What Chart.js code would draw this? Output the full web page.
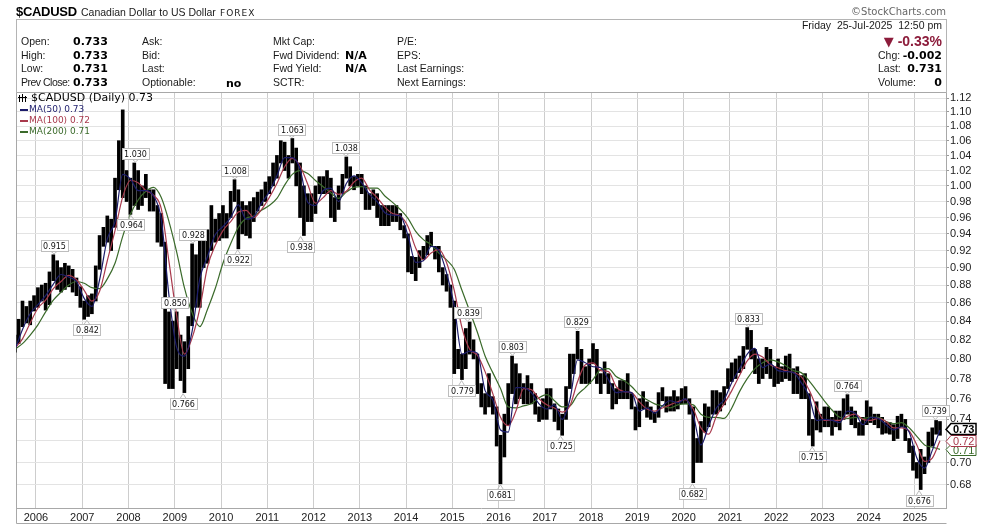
<!DOCTYPE html>
<html>
<head>
<meta charset="utf-8">
<script src="https://cdn.jsdelivr.net/npm/chart.js@4.4.1/dist/chart.umd.min.js"></script>
<style>
  body { margin: 0; background: #fff; }
  #wrap { position: relative; width: 990px; height: 525px; overflow: hidden; font-family: "Liberation Sans", Arial, sans-serif; }
  #chart { position: absolute; left: 0; top: 0; }
  .t { position: absolute; font-size: 10.5px; line-height: 13px; color: #1a1a1a; white-space: nowrap; }
  .v { position: absolute; font-family: "DejaVu Sans", sans-serif; font-weight: bold; font-size: 11px; line-height: 13px; color: #000; white-space: nowrap; }
  .r { text-align: right; }
</style>
</head>
<body>
<div id="wrap">
  <canvas id="chart" width="990" height="525"></canvas>

  <div class="t" style="left:16px;top:5px;font-size:13px;font-weight:bold;letter-spacing:-0.3px;color:#000">$CADUSD</div>
  <div class="t" style="left:81px;top:6px">Canadian Dollar to US Dollar</div>
  <div class="t" style="left:220px;top:7px;font-family:'DejaVu Sans';font-size:9px;letter-spacing:1px">FOREX</div>
  <div class="t" style="right:44px;top:5px;font-family:'DejaVu Sans';font-size:10px;color:#666">©StockCharts.com</div>

  <div style="position:absolute;left:16px;top:19px;width:929px;height:73px;border:1px solid #b4b4b4;border-bottom:none"></div>

  <div class="t" style="left:21px;top:35px">Open:</div>
  <div class="t" style="left:21px;top:49px">High:</div>
  <div class="t" style="left:21px;top:62px">Low:</div>
  <div class="t" style="left:21px;top:76px;letter-spacing:-0.5px">Prev Close:</div>
  <div class="v" style="left:73px;top:35px">0.733</div>
  <div class="v" style="left:73px;top:49px">0.733</div>
  <div class="v" style="left:73px;top:62px">0.731</div>
  <div class="v" style="left:73px;top:76px">0.733</div>

  <div class="t" style="left:142px;top:35px">Ask:</div>
  <div class="t" style="left:142px;top:49px">Bid:</div>
  <div class="t" style="left:142px;top:62px">Last:</div>
  <div class="t" style="left:142px;top:76px">Optionable:</div>
  <div class="v" style="left:226px;top:77px">no</div>

  <div class="t" style="left:273px;top:35px">Mkt Cap:</div>
  <div class="t" style="left:273px;top:49px">Fwd Dividend:</div>
  <div class="t" style="left:273px;top:62px">Fwd Yield:</div>
  <div class="t" style="left:273px;top:76px">SCTR:</div>
  <div class="v" style="left:345px;top:49px">N/A</div>
  <div class="v" style="left:345px;top:62px">N/A</div>

  <div class="t" style="left:397px;top:35px">P/E:</div>
  <div class="t" style="left:397px;top:49px">EPS:</div>
  <div class="t" style="left:397px;top:62px">Last Earnings:</div>
  <div class="t" style="left:397px;top:76px">Next Earnings:</div>

  <div class="t r" style="right:48px;top:19px">Friday&nbsp;&nbsp;25-Jul-2025&nbsp;&nbsp;12:50 pm</div>
  <div class="t r" style="right:48px;top:33px;font-size:14px;line-height:16px;font-weight:bold;color:#8c1c3b"><span style="font-family:'DejaVu Sans';font-size:13px">▼</span> -0.33%</div>
  <div class="t" style="left:878px;top:49px">Chg:</div>
  <div class="v r" style="right:48px;top:49px">-0.002</div>
  <div class="t" style="left:878px;top:62px">Last:</div>
  <div class="v r" style="right:48px;top:62px">0.731</div>
  <div class="t" style="left:878px;top:76px">Volume:</div>
  <div class="v r" style="right:48px;top:76px">0</div>
</div>

<script>
// monthly price range, Jul 2005 .. Jul 2025
const priceLow = [
  0.807, 0.816, 0.834, 0.838, 0.836, 0.851,                                           // 2005 Jul-Dec
  0.855, 0.862, 0.852, 0.858, 0.885, 0.875, 0.872, 0.875, 0.878, 0.872, 0.868, 0.855, // 2006
  0.842, 0.845, 0.848, 0.862, 0.898, 0.925, 0.930, 0.920, 0.948, 0.995, 0.985, 0.980, // 2007
  0.964, 0.975, 0.970, 0.975, 0.985, 0.968, 0.968, 0.930, 0.925, 0.775, 0.770, 0.770, // 2008
  0.790, 0.778, 0.766, 0.790, 0.835, 0.855, 0.855, 0.900, 0.905, 0.920, 0.930, 0.932, // 2009
  0.935, 0.935, 0.960, 0.980, 0.922, 0.940, 0.938, 0.935, 0.955, 0.968, 0.975, 0.980, // 2010
  0.990, 1.000, 1.010, 1.030, 1.020, 1.010, 1.030, 1.000, 0.960, 0.938, 0.955, 0.955, // 2011
  0.965, 0.990, 0.990, 0.990, 0.960, 0.955, 0.970, 0.990, 1.010, 1.000, 0.995, 1.000, // 2012
  0.990, 0.970, 0.970, 0.975, 0.960, 0.950, 0.950, 0.950, 0.955, 0.955, 0.945, 0.935, // 2013
  0.895, 0.893, 0.885, 0.900, 0.910, 0.915, 0.925, 0.910, 0.895, 0.880, 0.873, 0.855, // 2014
  0.785, 0.790, 0.779, 0.790, 0.805, 0.800, 0.765, 0.752, 0.745, 0.752, 0.745, 0.715, // 2015
  0.681, 0.705, 0.735, 0.765, 0.755, 0.760, 0.755, 0.755, 0.755, 0.745, 0.738, 0.740, // 2016
  0.740, 0.750, 0.738, 0.730, 0.725, 0.740, 0.770, 0.785, 0.800, 0.775, 0.775, 0.775, // 2017
  0.795, 0.775, 0.765, 0.775, 0.765, 0.750, 0.755, 0.760, 0.760, 0.760, 0.750, 0.730, // 2018
  0.733, 0.750, 0.742, 0.740, 0.737, 0.742, 0.758, 0.747, 0.748, 0.748, 0.750, 0.755, // 2019
  0.755, 0.745, 0.682, 0.700, 0.700, 0.728, 0.733, 0.745, 0.745, 0.748, 0.754, 0.770, // 2020
  0.777, 0.780, 0.786, 0.790, 0.810, 0.800, 0.785, 0.775, 0.780, 0.785, 0.780, 0.772, // 2021
  0.775, 0.777, 0.780, 0.778, 0.765, 0.765, 0.760, 0.760, 0.725, 0.715, 0.730, 0.728, // 2022
  0.733, 0.733, 0.725, 0.733, 0.730, 0.740, 0.745, 0.735, 0.732, 0.725, 0.725, 0.735, // 2023
  0.737, 0.735, 0.732, 0.726, 0.727, 0.726, 0.720, 0.722, 0.733, 0.720, 0.709, 0.693, // 2024
  0.686, 0.676, 0.690, 0.700, 0.715, 0.726, 0.725                                     // 2025 Jan-Jul
];
const priceHigh = [
  0.825, 0.842, 0.862, 0.856, 0.862, 0.868,
  0.877, 0.880, 0.882, 0.895, 0.915, 0.908, 0.900, 0.905, 0.902, 0.898, 0.888, 0.878,
  0.862, 0.868, 0.870, 0.902, 0.938, 0.948, 0.962, 0.958, 1.010, 1.060, 1.103, 1.020,
  1.010, 1.030, 1.020, 1.000, 1.015, 0.995, 0.995, 0.975, 0.965, 0.930, 0.850, 0.840,
  0.850, 0.825, 0.818, 0.845, 0.928, 0.915, 0.935, 0.935, 0.945, 0.975, 0.958, 0.965,
  0.975, 0.965, 0.993, 1.008, 0.995, 0.980, 0.975, 0.980, 0.985, 0.992, 0.995, 1.005,
  1.012, 1.030, 1.040, 1.060, 1.058, 1.040, 1.063, 1.050, 1.030, 1.000, 0.990, 0.990,
  1.000, 1.012, 1.012, 1.020, 1.010, 0.985, 1.000, 1.015, 1.038, 1.025, 1.012, 1.015,
  1.015, 1.000, 0.990, 0.995, 0.990, 0.975, 0.975, 0.975, 0.975, 0.975, 0.965, 0.950,
  0.940, 0.913, 0.912, 0.920, 0.925, 0.938, 0.942, 0.925, 0.925, 0.900, 0.892, 0.880,
  0.862, 0.810, 0.805, 0.832, 0.839, 0.820, 0.805, 0.775, 0.765, 0.785, 0.762, 0.752,
  0.725, 0.745, 0.775, 0.803, 0.795, 0.785, 0.775, 0.783, 0.775, 0.765, 0.752, 0.760,
  0.770, 0.770, 0.755, 0.750, 0.745, 0.772, 0.805, 0.805, 0.829, 0.810, 0.792, 0.800,
  0.816, 0.810, 0.785, 0.797, 0.785, 0.775, 0.770, 0.778, 0.778, 0.785, 0.765, 0.752,
  0.760, 0.767, 0.757, 0.752, 0.747, 0.766, 0.771, 0.762, 0.762, 0.768, 0.762, 0.770,
  0.772, 0.760, 0.752, 0.722, 0.738, 0.755, 0.752, 0.768, 0.768, 0.766, 0.772, 0.790,
  0.796, 0.800, 0.803, 0.813, 0.833, 0.830, 0.810, 0.800, 0.800, 0.812, 0.810, 0.792,
  0.800, 0.792, 0.803, 0.805, 0.790, 0.792, 0.783, 0.785, 0.765, 0.740, 0.757, 0.745,
  0.752, 0.752, 0.742, 0.748, 0.748, 0.760, 0.764, 0.752, 0.748, 0.737, 0.742, 0.758,
  0.752, 0.745, 0.745, 0.742, 0.737, 0.737, 0.735, 0.743, 0.745, 0.740, 0.722, 0.715,
  0.700, 0.712, 0.705, 0.728, 0.732, 0.739, 0.738
];

// moving averages, one value every two months from Jul 2005
const ma50 = [
  0.809, 0.831, 0.848,
  0.858, 0.868, 0.881, 0.892, 0.889, 0.884,
  0.865, 0.856, 0.886, 0.934, 0.955, 1.015,
  1.009, 0.994, 0.994, 0.987, 0.958, 0.868,
  0.812, 0.803, 0.829, 0.887, 0.913, 0.939,
  0.949, 0.960, 0.976, 0.958, 0.961, 0.978,
  0.992, 1.013, 1.037, 1.037, 1.022, 0.979,
  0.975, 0.994, 0.997, 0.980, 1.003, 1.013,
  1.004, 0.989, 0.980, 0.966, 0.963, 0.962,
  0.938, 0.906, 0.908, 0.925, 0.920, 0.894,
  0.857, 0.805, 0.808, 0.806, 0.768, 0.759,
  0.730, 0.728, 0.771, 0.771, 0.766, 0.755,
  0.750, 0.754, 0.740, 0.759, 0.799, 0.796,
  0.792, 0.791, 0.779, 0.766, 0.767, 0.766,
  0.748, 0.751, 0.746, 0.753, 0.758, 0.756,
  0.760, 0.744, 0.716, 0.734, 0.751, 0.759,
  0.776, 0.790, 0.805, 0.811, 0.791, 0.795,
  0.788, 0.787, 0.786, 0.776, 0.763, 0.739,
  0.740, 0.739, 0.737, 0.748, 0.746, 0.735,
  0.742, 0.741, 0.735, 0.730, 0.733, 0.728,
  0.704, 0.695, 0.711, 0.730
];
const ma100 = [
  0.811, 0.821, 0.838,
  0.854, 0.863, 0.876, 0.884, 0.891, 0.886,
  0.874, 0.862, 0.873, 0.908, 0.944, 0.986,
  1.007, 1.004, 0.994, 0.988, 0.971, 0.907,
  0.846, 0.805, 0.822, 0.854, 0.901, 0.926,
  0.944, 0.955, 0.967, 0.969, 0.960, 0.970,
  0.985, 1.003, 1.025, 1.036, 1.026, 1.002,
  0.978, 0.985, 0.994, 0.989, 0.993, 1.005,
  1.010, 0.995, 0.985, 0.973, 0.965, 0.962,
  0.949, 0.923, 0.909, 0.917, 0.921, 0.906,
  0.874, 0.833, 0.810, 0.804, 0.787, 0.765,
  0.742, 0.734, 0.748, 0.770, 0.769, 0.760,
  0.754, 0.751, 0.747, 0.753, 0.777, 0.794,
  0.796, 0.788, 0.787, 0.772, 0.767, 0.766,
  0.757, 0.750, 0.748, 0.751, 0.754, 0.757,
  0.759, 0.750, 0.732, 0.726, 0.743, 0.755,
  0.768, 0.783, 0.798, 0.805, 0.802, 0.794,
  0.791, 0.788, 0.786, 0.782, 0.769, 0.752,
  0.739, 0.739, 0.739, 0.743, 0.745, 0.740,
  0.739, 0.741, 0.738, 0.732, 0.732, 0.729,
  0.716, 0.701, 0.704, 0.720
];
const ma200 = [
  0.810, 0.816, 0.825,
  0.836, 0.850, 0.863, 0.872, 0.880, 0.884,
  0.882, 0.877, 0.876, 0.887, 0.905, 0.937,
  0.964, 0.982, 0.993, 0.998, 0.985, 0.955,
  0.918, 0.877, 0.849, 0.834, 0.853, 0.876,
  0.905, 0.928, 0.948, 0.959, 0.962, 0.969,
  0.975, 0.984, 1.001, 1.015, 1.020, 1.016,
  1.007, 0.999, 0.991, 0.984, 0.992, 0.998,
  0.999, 0.997, 0.997, 0.987, 0.979, 0.970,
  0.959, 0.943, 0.933, 0.927, 0.917, 0.909,
  0.898, 0.874, 0.851, 0.828, 0.803, 0.786,
  0.770, 0.752, 0.751, 0.753, 0.755, 0.761,
  0.764, 0.758, 0.752, 0.753, 0.764, 0.771,
  0.779, 0.789, 0.790, 0.782, 0.778, 0.772,
  0.764, 0.759, 0.755, 0.753, 0.751, 0.754,
  0.755, 0.754, 0.745, 0.742, 0.742, 0.741,
  0.751, 0.767, 0.780, 0.790, 0.796, 0.799,
  0.797, 0.793, 0.788, 0.786, 0.778, 0.768,
  0.758, 0.749, 0.742, 0.741, 0.742, 0.741,
  0.742, 0.742, 0.738, 0.736, 0.737, 0.732,
  0.724, 0.716, 0.714, 0.712
];

const lastPrice = 0.731;
const yearTicks = [2006, 2007, 2008, 2009, 2010, 2011, 2012, 2013, 2014, 2015,
  2016, 2017, 2018, 2019, 2020, 2021, 2022, 2023, 2024, 2025];
const priceTicks = [0.68, 0.70, 0.72, 0.74, 0.76, 0.78, 0.80, 0.82, 0.84, 0.86, 0.88, 0.90,
  0.92, 0.94, 0.96, 0.98, 1.00, 1.02, 1.04, 1.06, 1.08, 1.10, 1.12];

// labelled highs and lows: date (decimal year), value, above/below
const pivots = [
  [2006.39, 0.915, 'up'], [2007.10, 0.842, 'dn'], [2008.15, 1.030, 'up'], [2008.05, 0.964, 'dn'],
  [2009.00, 0.850, 'up'], [2009.18, 0.766, 'dn'], [2009.39, 0.928, 'up'], [2010.30, 1.008, 'up'],
  [2010.36, 0.922, 'dn'], [2011.53, 1.063, 'up'], [2011.72, 0.938, 'dn'], [2012.70, 1.038, 'up'],
  [2015.33, 0.839, 'up'], [2015.20, 0.779, 'dn'], [2016.04, 0.681, 'dn'], [2016.30, 0.803, 'up'],
  [2017.34, 0.725, 'dn'], [2017.70, 0.829, 'up'], [2020.19, 0.682, 'dn'], [2021.40, 0.833, 'up'],
  [2022.78, 0.715, 'dn'], [2023.54, 0.764, 'up'], [2025.09, 0.676, 'dn'], [2025.44, 0.739, 'up']
];

const monthDate = i => 2005 + (6.5 + i) / 12;

const ma50Color = '#1c1c6b';
const ma100Color = '#a8394c';
const ma200Color = '#3a6a2a';

const barData = priceLow.map((lo, i) => ({ x: monthDate(i), y: [lo, priceHigh[i]] }));
const maPoints = arr => arr.map((v, k) => ({ x: monthDate(k * 2), y: v }));

function drawTag(ctx, px, py, text, up) {
  ctx.font = '8px "DejaVu Sans"';
  const w = Math.ceil(ctx.measureText(text).width) + 4;
  const h = 11;
  const bx = Math.round(px - w / 2) + 0.5;
  const by = up ? Math.round(py) - 4 - h + 0.5 : Math.round(py) + 5 + 0.5;
  ctx.fillStyle = '#fff';
  ctx.fillRect(bx, by, w, h);
  ctx.strokeStyle = '#bdbdbd';
  ctx.lineWidth = 1;
  ctx.strokeRect(bx, by, w, h);
  ctx.beginPath();
  if (up) { ctx.moveTo(px - 3, by + h); ctx.lineTo(px, py - 1); ctx.lineTo(px + 3, by + h); }
  else { ctx.moveTo(px - 3, by); ctx.lineTo(px, py + 1); ctx.lineTo(px + 3, by); }
  ctx.stroke();
  ctx.fillStyle = '#111';
  ctx.textAlign = 'center';
  ctx.textBaseline = 'middle';
  ctx.fillText(text, Math.round(px) + 0.5, by + h / 2 + 0.5);
}

function drawValueTag(ctx, x0, py, text, color, bold) {
  const h = 11, w = 25;
  const y0 = Math.round(py - h / 2) + 0.5;
  ctx.beginPath();
  ctx.moveTo(x0, Math.round(py) + 0.5);
  ctx.lineTo(x0 + 5, y0);
  ctx.lineTo(x0 + 5 + w, y0);
  ctx.lineTo(x0 + 5 + w, y0 + h);
  ctx.lineTo(x0 + 5, y0 + h);
  ctx.closePath();
  ctx.fillStyle = '#fff';
  ctx.fill();
  ctx.strokeStyle = color;
  ctx.lineWidth = bold ? 1.5 : 1;
  ctx.stroke();
  ctx.font = (bold ? 'bold ' : '') + '11px "Liberation Sans"';
  ctx.fillStyle = color;
  ctx.textAlign = 'left';
  ctx.textBaseline = 'middle';
  ctx.fillText(text, x0 + 7, y0 + h / 2 + 0.5);
}

const overlay = {
  id: 'overlay',
  beforeDatasetsDraw(chart) {
    const { ctx, chartArea: a } = chart;
    ctx.save();
    ctx.strokeStyle = '#a8a8a8';
    ctx.lineWidth = 1;
    ctx.beginPath();
    ctx.moveTo(a.left + 0.5, a.top + 0.5);
    ctx.lineTo(a.left + 0.5, 523.5);
    ctx.lineTo(a.right + 0.5, 523.5);
    ctx.moveTo(a.left, a.top + 0.5);
    ctx.lineTo(a.right, a.top + 0.5);
    ctx.stroke();
    ctx.restore();
  },
  afterDatasetsDraw(chart) {
    const { ctx, chartArea: a, scales } = chart;
    const xs = scales.x, ys = scales.y;
    ctx.save();
    pivots.forEach(([t, v, dir]) => {
      drawTag(ctx, xs.getPixelForValue(t), ys.getPixelForValue(v), v.toFixed(3), dir === 'up');
    });

    // legend
    ctx.textAlign = 'left';
    ctx.textBaseline = 'middle';
    ctx.fillStyle = '#000';
    ctx.fillRect(19, 95, 1, 7);
    ctx.fillRect(22, 94, 1, 8);
    ctx.fillRect(25, 96, 1, 6);
    ctx.fillRect(18, 97, 9, 1);
    ctx.font = '11px "DejaVu Sans"';
    ctx.fillText('$CADUSD (Daily) ' + lastPrice.toFixed(2), 31, 98.5);
    const rows = [
      ['MA(50) ' + ma50[ma50.length - 1].toFixed(2), ma50Color],
      ['MA(100) ' + ma100[ma100.length - 1].toFixed(2), ma100Color],
      ['MA(200) ' + ma200[ma200.length - 1].toFixed(2), ma200Color]
    ];
    ctx.font = '9px "DejaVu Sans"';
    rows.forEach(([txt, col], k) => {
      const yy = 109.5 + k * 11;
      ctx.fillStyle = col;
      ctx.fillRect(20, Math.round(yy) - 1, 8, 2);
      ctx.fillText(txt, 29, yy);
    });

    // current values on the right edge
    const x0 = a.right;
    drawValueTag(ctx, x0, ys.getPixelForValue(ma200[ma200.length - 1]), ma200[ma200.length - 1].toFixed(2), ma200Color, false);
    drawValueTag(ctx, x0, ys.getPixelForValue(ma100[ma100.length - 1]), ma100[ma100.length - 1].toFixed(2), ma100Color, false);
    drawValueTag(ctx, x0, ys.getPixelForValue(lastPrice), lastPrice.toFixed(2), '#000', true);
    ctx.restore();
  }
};

new Chart(document.getElementById('chart'), {
  type: 'bar',
  data: {
    datasets: [
      { type: 'line', label: 'MA(50)', data: maPoints(ma50), borderColor: ma50Color, borderWidth: 1.2,
        pointRadius: 0, cubicInterpolationMode: 'monotone', order: 1 },
      { type: 'line', label: 'MA(100)', data: maPoints(ma100), borderColor: ma100Color, borderWidth: 1.2,
        pointRadius: 0, cubicInterpolationMode: 'monotone', order: 2 },
      { type: 'line', label: 'MA(200)', data: maPoints(ma200), borderColor: ma200Color, borderWidth: 1.2,
        pointRadius: 0, cubicInterpolationMode: 'monotone', order: 3 },
      { type: 'bar', label: '$CADUSD', data: barData, backgroundColor: '#000', borderWidth: 0,
        barThickness: 3, order: 10 }
    ]
  },
  options: {
    responsive: false,
    animation: false,
    devicePixelRatio: 1,
    layout: { padding: { left: 16, top: 92, right: 0, bottom: 0 } },
    plugins: { legend: { display: false }, tooltip: { enabled: false } },
    scales: {
      x: {
        type: 'linear',
        min: 2005.568,
        max: 2025.672,
        offset: false,
        afterBuildTicks: s => { s.ticks = yearTicks.map(v => ({ value: v })); },
        afterFit: s => { s.height = 17; },
        grid: { color: '#cdcdcd', drawTicks: false, offset: false },
        border: { color: '#a8a8a8' },
        ticks: {
          autoSkip: false, maxRotation: 0, padding: 3, color: '#222',
          font: { family: 'Liberation Sans', size: 11 },
          callback: v => String(v)
        }
      },
      y: {
        type: 'logarithmic',
        position: 'right',
        min: 0.6601,
        max: 1.1287,
        afterBuildTicks: s => { s.ticks = priceTicks.map(v => ({ value: v })); },
        afterFit: s => { s.width = 44; },
        grid: { color: '#e3e3e3', tickLength: 3, tickColor: '#999' },
        border: { color: '#a8a8a8' },
        ticks: {
          autoSkip: false, padding: 1, color: '#222',
          font: { family: 'Liberation Sans', size: 11 },
          callback: v => Number(v).toFixed(2)
        }
      }
    }
  },
  plugins: [overlay]
});
</script>
</body>
</html>
